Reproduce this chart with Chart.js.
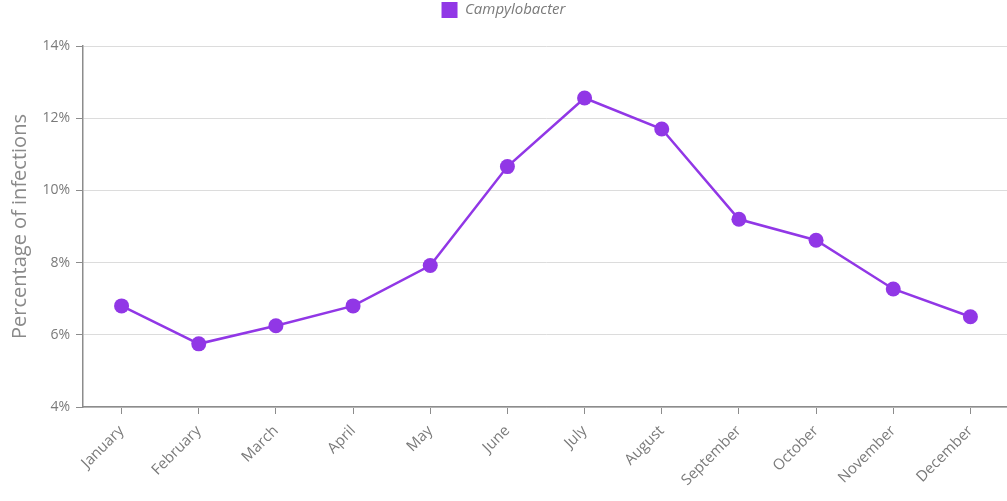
<!DOCTYPE html>
<html>
<head>
<meta charset="utf-8">
<script src="https://cdn.jsdelivr.net/npm/chart.js@4/dist/chart.umd.min.js"></script>
<style>
  html, body { margin: 0; padding: 0; background: #fff; overflow: hidden; }
  #wrap { width: 1017px; height: 501px; position: relative; }
</style>
</head>
<body>
<div id="wrap"><canvas id="chart"></canvas></div>
<script>
const months = ["January", "February", "March", "April", "May", "June",
    "July", "August", "September", "October", "November", "December"];
const campylobacter = [6.8, 5.75, 6.25, 6.8, 7.92, 10.66, 12.56, 11.7, 9.2, 8.62, 7.27, 6.5];
const seriesName = "Campylobacter";
const yTitle = "Percentage of infections";

const purple = "#9137e6";
const axisGrey = "#8c8c8c";
const textGrey = "#7a7a7a";

// fixed legend height, and nudge it left since the canvas runs past the window
const legendTweak = {
    id: "legendTweak",
    beforeInit: function (chart) {
        const fit = chart.legend.fit;
        chart.legend.fit = function () {
            fit.bind(chart.legend)();
            this.height = 46;
        };
    },
    afterLayout: function (chart) {
        chart.legend.left -= 7;
        chart.legend.right -= 7;
    },
};

new Chart(document.getElementById("chart"), {
    type: "line",
    data: {
        labels: months,
        datasets: [{
            label: seriesName,
            data: campylobacter,
            borderColor: purple,
            backgroundColor: purple,
            borderWidth: 2.5,
            tension: 0,
            fill: false,
            pointRadius: 7.5,
            pointHoverRadius: 8,
            pointBorderWidth: 0,
        }],
    },
    plugins: [legendTweak],
    options: {
        responsive: true,
        maintainAspectRatio: false,
        animation: false,
        layout: { padding: { top: 0, right: 0, left: 4, bottom: 0 } },
        scales: {
            x: {
                offset: true,
                grid: {
                    offset: false,
                    drawOnChartArea: false,
                    tickColor: axisGrey,
                    tickLength: 7,
                },
                border: { color: axisGrey, width: 1.5 },
                ticks: {
                    color: textGrey,
                    font: { family: "Open Sans", size: 15 },
                    maxRotation: 45,
                    minRotation: 45,
                    padding: 8,
                },
                afterFit: function (scale) { scale.height = 94; },
            },
            y: {
                min: 4,
                max: 14,
                ticks: {
                    stepSize: 2,
                    color: textGrey,
                    font: { family: "Open Sans", size: 14 },
                    padding: 6,
                    callback: function (value) { return value + "%"; },
                },
                grid: {
                    color: "#dcdcdc",
                    tickColor: axisGrey,
                    tickLength: 7,
                },
                border: { color: axisGrey, width: 1.5 },
                title: {
                    display: true,
                    text: yTitle,
                    color: "#8a8a8a",
                    font: { family: "Open Sans", size: 20 },
                    padding: { bottom: 4 },
                },
                afterFit: function (scale) { scale.width = 79; },
            },
        },
        plugins: {
            legend: {
                position: "top",
                labels: {
                    boxWidth: 16,
                    boxHeight: 16,
                    color: textGrey,
                    font: { family: "Open Sans", size: 15, style: "italic" },
                    padding: 2,
                    generateLabels: function (chart) {
                        return chart.data.datasets.map(function (ds, i) {
                            return {
                                text: ds.label,
                                fillStyle: ds.backgroundColor,
                                strokeStyle: ds.backgroundColor,
                                lineWidth: 0,
                                fontColor: textGrey,
                                datasetIndex: i,
                            };
                        });
                    },
                },
            },
            tooltip: { enabled: false },
        },
    },
});
</script>
</body>
</html>
